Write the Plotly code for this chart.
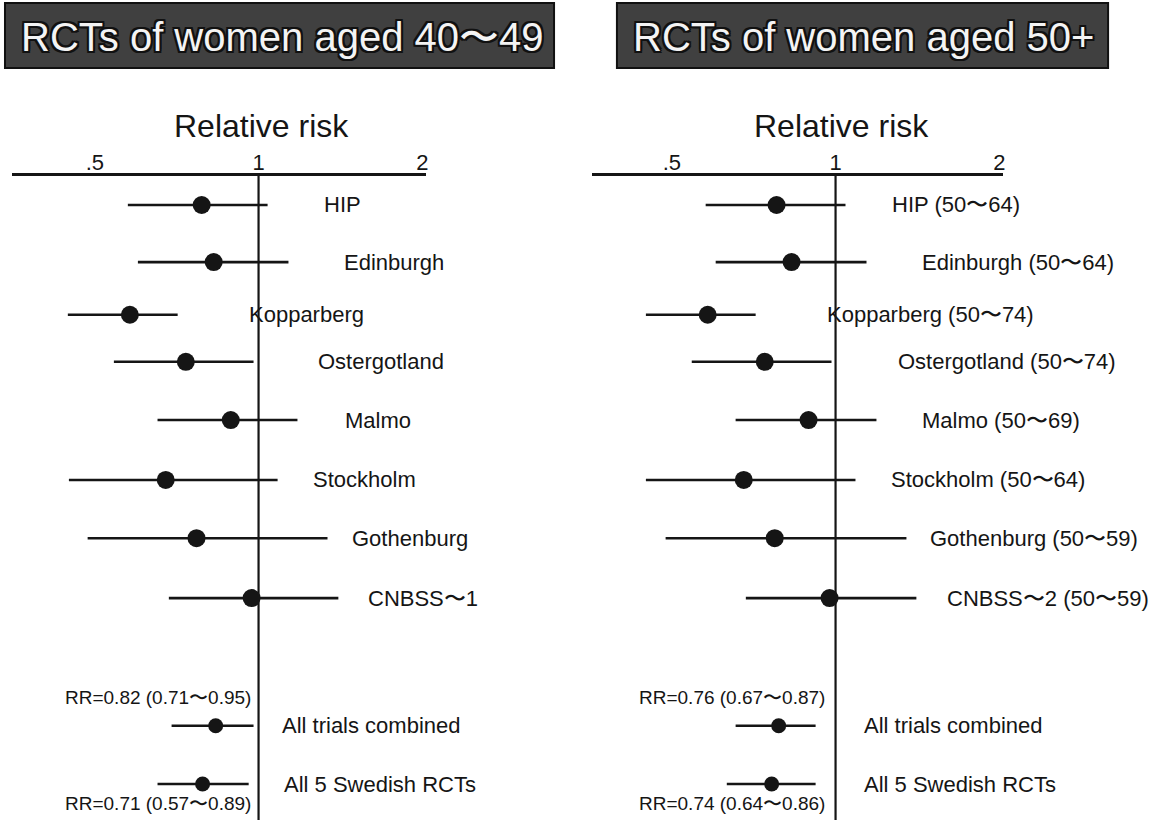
import math
import plotly.graph_objects as go

# ---------------- data ----------------
titles = ["RCTs of women aged 40〜49", "RCTs of women aged 50+"]
axis_title = "Relative risk"
tick_vals = [0.5, 1, 2]
tick_text = [".5", "1", "2"]

studies_40 = ["HIP", "Edinburgh", "Kopparberg", "Ostergotland", "Malmo",
              "Stockholm", "Gothenburg", "CNBSS〜1",
              "All trials combined", "All 5 Swedish RCTs"]
rr_40 = [0.786, 0.827, 0.580, 0.735, 0.889, 0.675, 0.769, 0.971, 0.834, 0.789]
lo_40 = [0.575, 0.600, 0.446, 0.542, 0.652, 0.448, 0.485, 0.684, 0.692, 0.652]
hi_40 = [1.039, 1.135, 0.710, 0.979, 1.179, 1.084, 1.339, 1.402, 0.979, 0.959]
summary_40 = ["RR=0.82 (0.71〜0.95)", "RR=0.71 (0.57〜0.89)"]

studies_50 = ["HIP (50〜64)", "Edinburgh (50〜64)", "Kopparberg (50〜74)",
              "Ostergotland (50〜74)", "Malmo (50〜69)", "Stockholm (50〜64)",
              "Gothenburg (50〜59)", "CNBSS〜2 (50〜59)",
              "All trials combined", "All 5 Swedish RCTs"]
rr_50 = [0.779, 0.830, 0.582, 0.741, 0.892, 0.678, 0.773, 0.975, 0.786, 0.763]
lo_50 = [0.577, 0.602, 0.448, 0.544, 0.655, 0.448, 0.487, 0.684, 0.655, 0.631]
hi_50 = [1.043, 1.140, 0.713, 0.983, 1.189, 1.088, 1.350, 1.408, 0.919, 0.919]
summary_50 = ["RR=0.76 (0.67〜0.87)", "RR=0.74 (0.64〜0.86)"]

# ---------------- layout / style ----------------
W, H = 1158, 820
INK = "#151515"
FONT = "Liberation Sans, Arial, Helvetica, sans-serif"

row_pos = [0, 1.02, 1.96, 2.80, 3.84, 4.91, 5.95, 7.02, 9.30, 10.34]
summary_rows = [8.79, 10.68]
n_studies = 8
label_shift = [[63, 83, -12, 57, 84, 52, 91, 107, 21, 23],
               [54, 84, -11, 60, 84, 53, 92, 109, 26, 26]]
summary_shift = [-6, -9]

ROW0_PX, ROW_PX = 205, 56          # pixel of row 0, pixels per row
Y_TOP_PX, Y_BOT_PX = 176, 820
y_range = [(Y_BOT_PX - ROW0_PX) / ROW_PX, (Y_TOP_PX - ROW0_PX) / ROW_PX]

DOUBLE_PX = 164                    # pixels per doubling of RR
panels = [
    dict(one_px=259, left_px=12, right_px=427, title_box=(5, 555), title_cx=283, rr_cx=262),
    dict(one_px=837, left_px=593, right_px=1005, title_box=(618, 1110), title_cx=865, rr_cx=843),
]

def px_to_log(px, one_px):
    return (px - one_px) / DOUBLE_PX * math.log10(2)

def fx(px):
    return px / W

def fy(py):
    return 1 - py / H

data_sets = [(studies_40, rr_40, lo_40, hi_40, summary_40),
             (studies_50, rr_50, lo_50, hi_50, summary_50)]

fig = go.Figure()
annotations = []
shapes = []

outline = ("-2px -2px 0 #111, 2px -2px 0 #111, -2px 2px 0 #111, 2px 2px 0 #111, "
           "0 2px 0 #111, 2px 0 0 #111, 0 -2px 0 #111, -2px 0 0 #111")

for i, (p, (names, rr, lo, hi, summ)) in enumerate(zip(panels, data_sets)):
    xa = "x" if i == 0 else "x2"
    ya = "y" if i == 0 else "y2"
    # vertical reference line at RR = 1
    fig.add_trace(go.Scatter(x=[1, 1], y=y_range, mode="lines",
                             line=dict(color=INK, width=2.2),
                             xaxis=xa, yaxis=ya, hoverinfo="skip", showlegend=False))
    # confidence interval segments
    xs, ys = [], []
    for l, h, r in zip(lo, hi, row_pos):
        xs += [l, h, None]
        ys += [r, r, None]
    fig.add_trace(go.Scatter(x=xs, y=ys, mode="lines",
                             line=dict(color=INK, width=2.6),
                             xaxis=xa, yaxis=ya, hoverinfo="skip", showlegend=False))
    # point estimates
    sizes = [18] * n_studies + [15] * (len(rr) - n_studies)
    fig.add_trace(go.Scatter(x=rr, y=row_pos, mode="markers",
                             marker=dict(color=INK, size=sizes, opacity=1, line=dict(width=0)),
                             opacity=1,
                             xaxis=xa, yaxis=ya, showlegend=False))
    # row labels
    for name, r, sh in zip(names, row_pos, label_shift[i]):
        annotations.append(dict(x=0, y=r, xref=xa, yref=ya, text=name,
                                xanchor="left", yanchor="middle", xshift=sh,
                                showarrow=False,
                                font=dict(family=FONT, size=22, color=INK)))
    # summary RR texts
    for t, r in zip(summ, summary_rows):
        annotations.append(dict(x=0, y=r, xref=xa, yref=ya, text=t,
                                xanchor="right", yanchor="middle", xshift=summary_shift[i],
                                showarrow=False,
                                font=dict(family=FONT, size=19, color=INK)))
    # "Relative risk"
    annotations.append(dict(x=fx(p["rr_cx"]), y=fy(126), xref="paper", yref="paper",
                            text=axis_title, showarrow=False, xanchor="center", yanchor="middle",
                            borderpad=0,
                            font=dict(family=FONT, size=32, color=INK)))
    # title box
    x0, x1 = p["title_box"]
    shapes.append(dict(type="rect", xref="paper", yref="paper",
                       x0=fx(x0), x1=fx(x1), y0=fy(68), y1=fy(3),
                       fillcolor="#404040", line=dict(color="#111111", width=2), layer="below"))
    annotations.append(dict(x=fx(p["title_cx"]), y=fy(37), xref="paper", yref="paper",
                            text=titles[i], showarrow=False, xanchor="center", yanchor="middle",
                            font=dict(family=FONT, size=40, color="#f4f4f4", shadow=outline)))

def xaxis_cfg(p, anchor):
    return dict(type="log",
                range=[px_to_log(p["left_px"], p["one_px"]), px_to_log(p["right_px"], p["one_px"])],
                domain=[fx(p["left_px"]), fx(p["right_px"])],
                side="top", anchor=anchor,
                showline=True, linecolor=INK, linewidth=2.6,
                tickvals=tick_vals, ticktext=tick_text, ticks="",
                ticklabelstandoff=-6,
                tickfont=dict(family=FONT, size=22, color=INK),
                showgrid=False, zeroline=False, fixedrange=True)

def yaxis_cfg(anchor):
    return dict(range=y_range, domain=[0, fy(Y_TOP_PX)], anchor=anchor,
                visible=False, showgrid=False, zeroline=False, fixedrange=True)

fig.update_layout(
    width=W, height=H,
    margin=dict(l=0, r=0, t=0, b=0),
    paper_bgcolor="white", plot_bgcolor="white",
    xaxis=xaxis_cfg(panels[0], "y"),
    xaxis2=xaxis_cfg(panels[1], "y2"),
    yaxis=yaxis_cfg("x"),
    yaxis2=yaxis_cfg("x2"),
    annotations=annotations,
    shapes=shapes,
    showlegend=False,
)

fig.write_html("out.html",
               config={"displayModeBar": False},
               post_script="document.body.style.margin='0';document.body.style.overflow='hidden';")
